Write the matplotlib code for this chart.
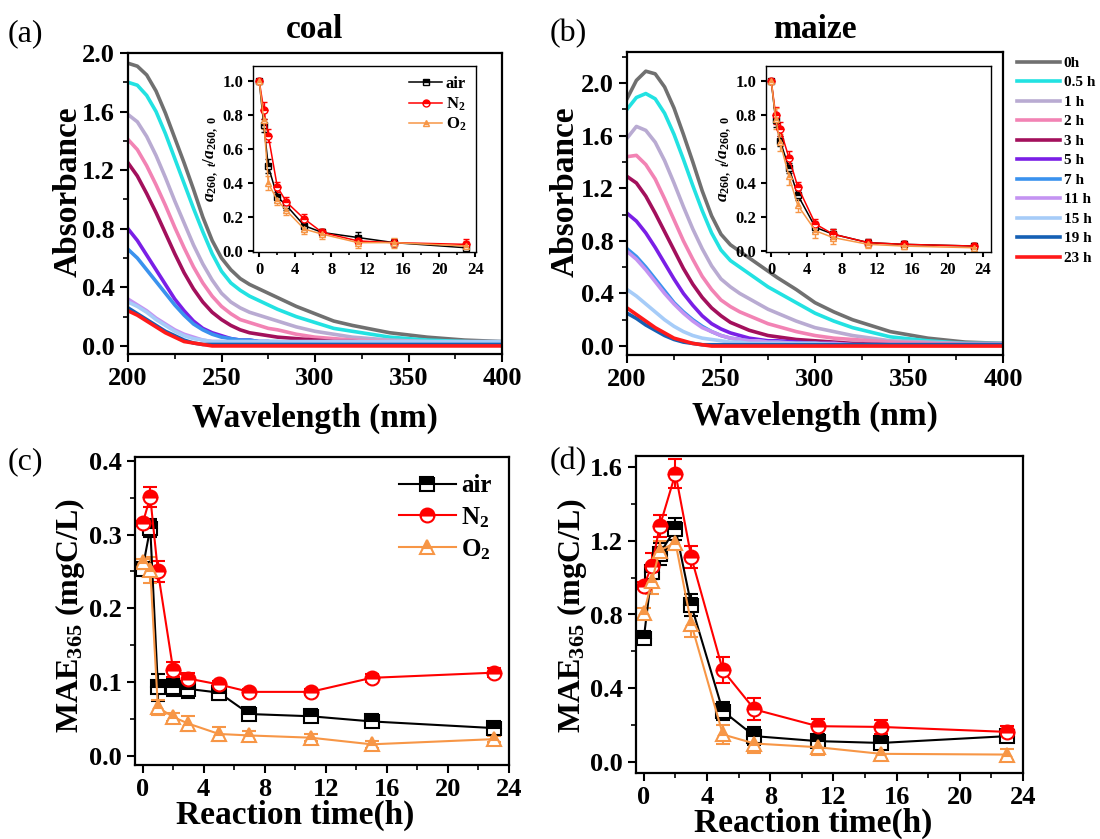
import matplotlib
matplotlib.use("Agg")
import matplotlib.pyplot as plt
from matplotlib.ticker import MultipleLocator

plt.rcParams["font.family"] = ["Liberation Serif", "DejaVu Serif"]
plt.rcParams["font.weight"] = "bold"
plt.rcParams["mathtext.fontset"] = "custom"
plt.rcParams["mathtext.rm"] = "Liberation Serif:bold"
plt.rcParams["mathtext.it"] = "Liberation Serif:italic:bold"
plt.rcParams["mathtext.bf"] = "Liberation Serif:bold"
plt.rcParams["axes.linewidth"] = 1.6

# ---- UV-vis spectra ----
wavelength = [200, 205, 210, 215, 220, 225, 230, 235, 240, 245, 250, 255, 260, 265,
              270, 275, 280, 290, 300, 310, 320, 340, 360, 380, 400]
time_labels = ["0h", "0.5 h", "1 h", "2 h", "3 h", "5 h", "7 h", "11 h", "15 h", "19 h", "23 h"]
spec_colors = ["#707070", "#22E2E2", "#B9ABD2", "#F283B4", "#A3105C", "#7A1FE6",
               "#3A92EE", "#C493F2", "#A6CCF8", "#1560B4", "#FF1A1A"]

coal_abs = [
    [1.93, 1.91, 1.85, 1.74, 1.59, 1.42, 1.25, 1.07, 0.88, 0.72, 0.60, 0.52, 0.46, 0.42, 0.39, 0.36, 0.33, 0.27, 0.22, 0.17, 0.14, 0.09, 0.06, 0.04, 0.03],
    [1.80, 1.78, 1.71, 1.60, 1.45, 1.28, 1.11, 0.94, 0.78, 0.63, 0.51, 0.43, 0.38, 0.34, 0.31, 0.28, 0.25, 0.20, 0.16, 0.12, 0.10, 0.06, 0.04, 0.03, 0.02],
    [1.58, 1.53, 1.43, 1.30, 1.15, 0.99, 0.84, 0.69, 0.56, 0.45, 0.36, 0.30, 0.26, 0.23, 0.21, 0.19, 0.17, 0.13, 0.10, 0.08, 0.06, 0.04, 0.03, 0.02, 0.02],
    [1.41, 1.34, 1.23, 1.10, 0.96, 0.81, 0.67, 0.54, 0.43, 0.34, 0.27, 0.22, 0.18, 0.16, 0.14, 0.12, 0.11, 0.08, 0.06, 0.05, 0.04, 0.03, 0.02, 0.02, 0.01],
    [1.25, 1.16, 1.04, 0.91, 0.77, 0.63, 0.50, 0.39, 0.30, 0.23, 0.18, 0.14, 0.11, 0.09, 0.08, 0.07, 0.06, 0.05, 0.04, 0.03, 0.03, 0.02, 0.01, 0.01, 0.01],
    [0.80, 0.72, 0.62, 0.52, 0.42, 0.32, 0.24, 0.17, 0.12, 0.09, 0.07, 0.05, 0.04, 0.04, 0.03, 0.03, 0.02, 0.02, 0.01, 0.01, 0.01, 0.01, 0.01, 0.01, 0.01],
    [0.66, 0.60, 0.52, 0.44, 0.36, 0.28, 0.21, 0.15, 0.11, 0.08, 0.06, 0.05, 0.04, 0.04, 0.03, 0.03, 0.03, 0.02, 0.02, 0.02, 0.02, 0.02, 0.02, 0.02, 0.02],
    [0.32, 0.28, 0.24, 0.19, 0.15, 0.11, 0.08, 0.06, 0.04, 0.03, 0.03, 0.02, 0.02, 0.02, 0.02, 0.02, 0.02, 0.02, 0.02, 0.02, 0.02, 0.02, 0.02, 0.02, 0.02],
    [0.30, 0.27, 0.23, 0.18, 0.14, 0.10, 0.07, 0.05, 0.04, 0.03, 0.03, 0.03, 0.03, 0.03, 0.03, 0.03, 0.03, 0.03, 0.03, 0.03, 0.03, 0.03, 0.03, 0.03, 0.03],
    [0.26, 0.22, 0.18, 0.14, 0.10, 0.07, 0.04, 0.02, 0.01, 0.01, 0.01, 0.01, 0.01, 0.01, 0.01, 0.01, 0.01, 0.01, 0.01, 0.01, 0.01, 0.01, 0.01, 0.01, 0.01],
    [0.24, 0.21, 0.17, 0.13, 0.09, 0.06, 0.03, 0.02, 0.01, 0.00, 0.00, 0.00, 0.00, 0.00, 0.00, 0.00, 0.00, 0.00, 0.00, 0.00, 0.00, 0.00, 0.00, 0.00, 0.00],
]

maize_abs = [
    [1.88, 2.02, 2.09, 2.07, 1.97, 1.81, 1.61, 1.40, 1.18, 0.99, 0.85, 0.77, 0.72, 0.67, 0.62, 0.57, 0.52, 0.43, 0.33, 0.26, 0.20, 0.11, 0.06, 0.03, 0.02],
    [1.80, 1.89, 1.92, 1.88, 1.77, 1.61, 1.42, 1.22, 1.03, 0.86, 0.73, 0.65, 0.60, 0.55, 0.50, 0.45, 0.41, 0.33, 0.25, 0.19, 0.14, 0.07, 0.04, 0.02, 0.02],
    [1.58, 1.67, 1.64, 1.55, 1.41, 1.24, 1.06, 0.89, 0.74, 0.61, 0.51, 0.45, 0.40, 0.36, 0.32, 0.28, 0.25, 0.19, 0.14, 0.11, 0.08, 0.04, 0.03, 0.02, 0.02],
    [1.44, 1.45, 1.38, 1.27, 1.12, 0.96, 0.80, 0.66, 0.53, 0.43, 0.35, 0.30, 0.26, 0.23, 0.20, 0.17, 0.15, 0.11, 0.08, 0.06, 0.05, 0.03, 0.02, 0.01, 0.01],
    [1.29, 1.24, 1.14, 1.01, 0.87, 0.73, 0.59, 0.47, 0.37, 0.29, 0.23, 0.18, 0.15, 0.12, 0.10, 0.08, 0.07, 0.05, 0.04, 0.03, 0.02, 0.01, 0.01, 0.01, 0.01],
    [1.01, 0.95, 0.86, 0.75, 0.63, 0.51, 0.40, 0.31, 0.23, 0.17, 0.13, 0.10, 0.08, 0.06, 0.05, 0.04, 0.04, 0.03, 0.02, 0.02, 0.01, 0.01, 0.01, 0.01, 0.01],
    [0.74, 0.68, 0.60, 0.51, 0.42, 0.33, 0.26, 0.20, 0.15, 0.11, 0.08, 0.06, 0.05, 0.04, 0.04, 0.03, 0.03, 0.02, 0.02, 0.01, 0.01, 0.01, 0.01, 0.01, 0.01],
    [0.72, 0.66, 0.58, 0.49, 0.40, 0.32, 0.25, 0.19, 0.14, 0.11, 0.08, 0.06, 0.05, 0.04, 0.04, 0.03, 0.03, 0.02, 0.02, 0.02, 0.01, 0.01, 0.01, 0.01, 0.01],
    [0.43, 0.38, 0.32, 0.26, 0.20, 0.15, 0.11, 0.08, 0.06, 0.05, 0.04, 0.03, 0.03, 0.02, 0.02, 0.02, 0.02, 0.02, 0.02, 0.01, 0.01, 0.01, 0.01, 0.01, 0.01],
    [0.25, 0.21, 0.16, 0.12, 0.08, 0.05, 0.03, 0.02, 0.01, 0.01, 0.01, 0.01, 0.01, 0.01, 0.01, 0.01, 0.01, 0.01, 0.01, 0.01, 0.01, 0.01, 0.01, 0.01, 0.01],
    [0.29, 0.24, 0.19, 0.14, 0.10, 0.06, 0.04, 0.02, 0.01, 0.00, 0.00, 0.00, 0.00, 0.00, 0.00, 0.00, 0.00, 0.00, 0.00, 0.00, 0.00, 0.00, 0.00, 0.00, 0.00],
]

# ---- time series ----
hours = [0, 0.5, 1, 2, 3, 5, 7, 11, 15, 23]
gas_labels = ["air", "N$_2$", "O$_2$"]
gas_colors = ["black", "#FF0000", "#F79646"]
gas_markers = ["s", "o", "^"]

coal_ratio = [
    [1.00, 0.74, 0.50, 0.32, 0.27, 0.15, 0.11, 0.08, 0.05, 0.02],
    [1.00, 0.83, 0.68, 0.38, 0.29, 0.19, 0.11, 0.06, 0.05, 0.04],
    [1.00, 0.77, 0.40, 0.30, 0.24, 0.13, 0.10, 0.05, 0.05, 0.03],
]
coal_ratio_err = [
    [0.0, 0.04, 0.04, 0.03, 0.03, 0.03, 0.02, 0.03, 0.02, 0.02],
    [0.0, 0.05, 0.04, 0.03, 0.03, 0.03, 0.02, 0.02, 0.02, 0.03],
    [0.0, 0.05, 0.04, 0.03, 0.03, 0.03, 0.03, 0.03, 0.03, 0.03],
]
maize_ratio = [
    [1.00, 0.77, 0.65, 0.49, 0.33, 0.14, 0.10, 0.05, 0.04, 0.03],
    [1.00, 0.80, 0.72, 0.55, 0.38, 0.16, 0.10, 0.05, 0.04, 0.03],
    [1.00, 0.78, 0.64, 0.44, 0.27, 0.12, 0.08, 0.04, 0.03, 0.02],
]
maize_ratio_err = [
    [0.0, 0.04, 0.03, 0.03, 0.03, 0.03, 0.03, 0.02, 0.02, 0.02],
    [0.0, 0.05, 0.04, 0.04, 0.03, 0.03, 0.03, 0.02, 0.02, 0.02],
    [0.0, 0.06, 0.05, 0.05, 0.04, 0.04, 0.04, 0.02, 0.02, 0.02],
]

coal_mae = [
    [0.254, 0.309, 0.093, 0.094, 0.091, 0.086, 0.057, 0.054, 0.047, 0.038],
    [0.315, 0.351, 0.250, 0.117, 0.105, 0.097, 0.087, 0.087, 0.106, 0.113],
    [0.263, 0.252, 0.066, 0.053, 0.044, 0.030, 0.028, 0.025, 0.016, 0.023],
]
coal_mae_err = [
    [0.008, 0.012, 0.018, 0.012, 0.012, 0.010, 0.008, 0.004, 0.004, 0.007],
    [0.004, 0.014, 0.014, 0.010, 0.007, 0.005, 0.004, 0.004, 0.005, 0.006],
    [0.004, 0.018, 0.010, 0.006, 0.010, 0.010, 0.006, 0.005, 0.005, 0.004],
]
maize_mae = [
    [0.675, 1.03, 1.13, 1.265, 0.85, 0.276, 0.14, 0.113, 0.103, 0.14],
    [0.956, 1.065, 1.278, 1.565, 1.11, 0.497, 0.285, 0.194, 0.19, 0.163],
    [0.806, 0.98, 1.147, 1.19, 0.748, 0.149, 0.10, 0.08, 0.044, 0.04],
]
maize_mae_err = [
    [0.03, 0.04, 0.06, 0.06, 0.06, 0.05, 0.05, 0.03, 0.03, 0.03],
    [0.02, 0.07, 0.06, 0.08, 0.06, 0.07, 0.06, 0.04, 0.04, 0.03],
    [0.03, 0.07, 0.05, 0.04, 0.07, 0.05, 0.05, 0.04, 0.03, 0.03],
]

W, H = 1100, 839
fig = plt.figure(figsize=(W / 100, H / 100), dpi=100)


def box(l, t, r, b):
    return [l / W, 1 - b / H, (r - l) / W, (b - t) / H]


def style(ax, size=19, length=6):
    ax.tick_params(which="major", direction="out", length=length, width=1.5, labelsize=size)
    ax.tick_params(which="minor", direction="out", length=length * 0.55, width=1.2)
    for lab in ax.get_xticklabels() + ax.get_yticklabels():
        lab.set_fontweight("bold")


def spectra(ax, data):
    for vals, c, lab in zip(data, spec_colors, time_labels):
        ax.plot(wavelength, vals, color=c, lw=2.6, label=lab, solid_joinstyle="round")
    ax.set_xlim(200, 400)
    ax.xaxis.set_major_locator(MultipleLocator(50))
    ax.xaxis.set_minor_locator(MultipleLocator(25))
    ax.yaxis.set_major_locator(MultipleLocator(0.4))
    ax.yaxis.set_minor_locator(MultipleLocator(0.2))
    style(ax)


def series(ax, vals, errs, ms, lw, cap, ew):
    lines = []
    for y, e, c, m, lab in zip(vals, errs, gas_colors, gas_markers, gas_labels):
        cont = ax.errorbar(hours, y, yerr=e, color=c, marker=m, ms=ms, lw=lw, capsize=cap,
                           elinewidth=ew, capthick=ew, fillstyle="top",
                           markerfacecoloralt="white", markeredgewidth=ew, label=lab)
        lines.append(cont[0])
    ax.xaxis.set_major_locator(MultipleLocator(4))
    ax.xaxis.set_minor_locator(MultipleLocator(2))
    return lines


# (a) coal spectra
ax_a = fig.add_axes(box(128, 53, 502, 354))
spectra(ax_a, coal_abs)
ax_a.set_ylim(-0.055, 2.0)

# (b) maize spectra
ax_b = fig.add_axes(box(627, 52, 1003, 355))
spectra(ax_b, maize_abs)
ax_b.set_ylim(-0.068, 2.236)
fig.legend(*ax_b.get_legend_handles_labels(), loc="upper left",
           bbox_to_anchor=(1008 / W, 1 - 47 / H), frameon=False, fontsize=11,
           handlelength=2.8, handletextpad=0.25, labelspacing=0.38, borderpad=0.1)

# insets
for pos, vals, errs, xr in [((253, 66, 476, 252), coal_ratio, coal_ratio_err, (-0.7, 24.1)),
                            ((766, 66, 991, 252), maize_ratio, maize_ratio_err, (-0.6, 24.9))]:
    ins = fig.add_axes(box(*pos))
    lines = series(ins, vals, errs, ms=5, lw=1.1, cap=2.5, ew=1.0)
    ins.set_xlim(*xr)
    ins.set_ylim(-0.005, 1.09)
    ins.yaxis.set_major_locator(MultipleLocator(0.2))
    ins.xaxis.set_minor_locator(MultipleLocator(2))
    style(ins, size=12, length=3.5)
    for s in ins.spines.values():
        s.set_linewidth(1.0)
    ins.set_ylabel("$a_{260,\\ t}/a_{260,\\ 0}$", fontsize=12.5, labelpad=2)
    if vals is coal_ratio:
        ins.legend(lines, gas_labels, loc="upper right", fontsize=12, frameon=False,
                   handlelength=2.0, handletextpad=0.2, labelspacing=0.2, borderaxespad=0.2)

# (c) coal MAE
ax_c = fig.add_axes(box(135, 457, 509, 765))
lines_c = series(ax_c, coal_mae, coal_mae_err, ms=10, lw=1.5, cap=5, ew=1.5)
ax_c.set_xlim(-0.5, 24)
ax_c.set_ylim(-0.012, 0.405)
ax_c.yaxis.set_major_locator(MultipleLocator(0.1))
ax_c.yaxis.set_minor_locator(MultipleLocator(0.05))
style(ax_c)
ax_c.legend(lines_c, gas_labels, loc="upper right", fontsize=18, frameon=False,
            handlelength=2.3, handletextpad=0.2, labelspacing=0.3, borderaxespad=0.3)

# (d) maize MAE
ax_d = fig.add_axes(box(636, 456, 1023, 773))
series(ax_d, maize_mae, maize_mae_err, ms=10, lw=1.5, cap=5, ew=1.5)
ax_d.set_xlim(-0.5, 24)
ax_d.set_ylim(-0.06, 1.66)
ax_d.yaxis.set_major_locator(MultipleLocator(0.4))
ax_d.yaxis.set_minor_locator(MultipleLocator(0.2))
style(ax_d)

# labels and titles
big = 24
fig.text(315 / W, 1 - 30 / H, "coal", ha="center", va="center", fontsize=big)
fig.text(815 / W, 1 - 30 / H, "maize", ha="center", va="center", fontsize=big)
fig.text(68 / W, 1 - 192 / H, "Absorbance", rotation=90, ha="center", va="center", fontsize=big)
fig.text(565 / W, 1 - 192 / H, "Absorbance", rotation=90, ha="center", va="center", fontsize=big)
fig.text(315 / W, 1 - 418 / H, "Wavelength (nm)", ha="center", va="center", fontsize=big)
fig.text(815 / W, 1 - 416 / H, "Wavelength (nm)", ha="center", va="center", fontsize=big)
fig.text(70 / W, 1 - 615 / H, "MAE$_{365}$ (mgC/L)", rotation=90, ha="center", va="center", fontsize=23)
fig.text(572 / W, 1 - 615 / H, "MAE$_{365}$ (mgC/L)", rotation=90, ha="center", va="center", fontsize=23)
fig.text(295 / W, 1 - 815 / H, "Reaction time(h)", ha="center", va="center", fontsize=big)
fig.text(813 / W, 1 - 823 / H, "Reaction time(h)", ha="center", va="center", fontsize=big)

for x, y, t in [(8, 34, "(a)"), (550, 34, "(b)"), (8, 462, "(c)"), (550, 462, "(d)")]:
    fig.text(x / W, 1 - y / H, t, ha="left", va="center", fontsize=23, fontweight="normal")

fig.savefig("out.png", dpi=100)
